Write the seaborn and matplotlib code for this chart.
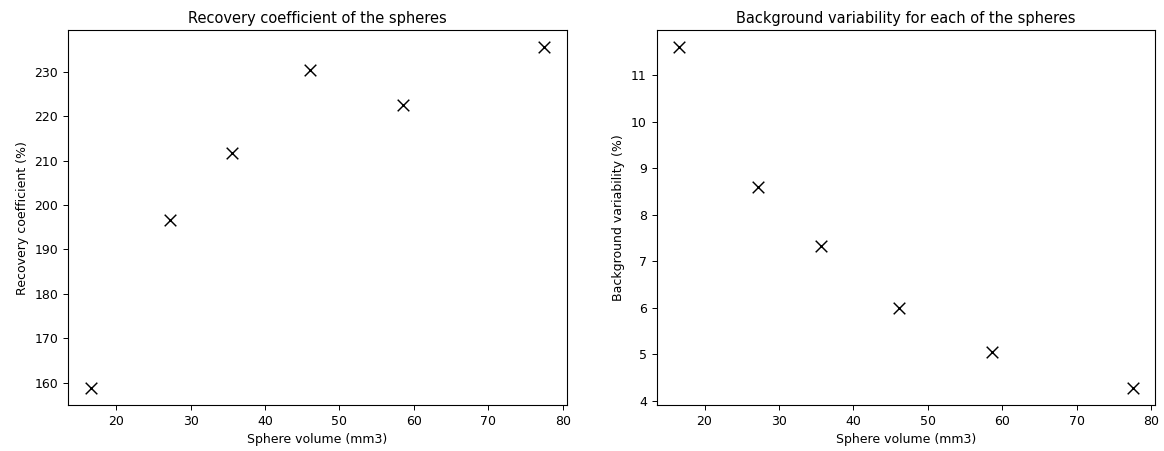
import matplotlib
matplotlib.use('Agg')
import matplotlib.pyplot as plt
import seaborn as sns
import pandas as pd

volumes = [16.6, 27.2, 35.6, 46.1, 58.6, 77.5]
recovery = [158.8, 196.5, 211.6, 230.3, 222.6, 235.5]
bg_var = [11.6, 8.6, 7.33, 6.0, 5.05, 4.28]

df = pd.DataFrame({'volume': volumes, 'recovery': recovery, 'bg_var': bg_var})

sns.set_style('ticks')
plt.rcParams['font.family'] = ['DejaVu Sans']
plt.rcParams['font.size'] = 9
plt.rcParams['text.color'] = 'black'
plt.rcParams['axes.labelcolor'] = 'black'

fig, ax = plt.subplots(1, 2, figsize=(11.64, 4.51), dpi=100)
fig.subplots_adjust(left=0.0585, right=0.9925, top=0.933, bottom=0.102, wspace=0.18)

sns.scatterplot(data=df, x='volume', y='recovery', marker='x', color='black',
                s=70, linewidth=1.05, ax=ax[0])
ax[0].set_title('Recovery coefficient of the spheres', fontsize=10.5, pad=5)
ax[0].set_xlabel('Sphere volume (mm3)')
ax[0].set_ylabel('Recovery coefficient (%)')

sns.scatterplot(data=df, x='volume', y='bg_var', marker='x', color='black',
                s=70, linewidth=1.05, ax=ax[1])
ax[1].set_title('Background variability for each of the spheres', fontsize=10.5, pad=5)
ax[1].set_xlabel('Sphere volume (mm3)')
ax[1].set_ylabel('Background variability (%)')

for a in ax:
    for s in a.spines.values():
        s.set_visible(True)
        s.set_color('black')
        s.set_linewidth(0.8)
    a.tick_params(colors='black', length=3.5, width=0.7, labelsize=9)

plt.savefig('out.png', dpi=100)
